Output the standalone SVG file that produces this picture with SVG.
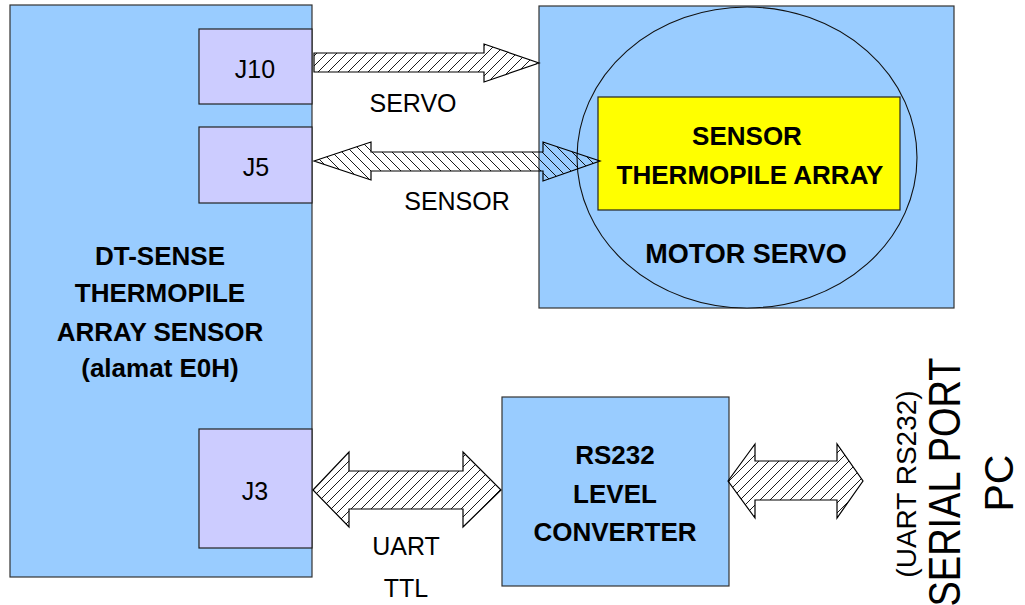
<svg xmlns="http://www.w3.org/2000/svg" width="1025" height="605" viewBox="0 0 1025 605">
<style>
.box{fill:#99CCFF;stroke:#333;stroke-width:1.2}
.port{fill:#CCCCFF;stroke:#222;stroke-width:1.2}
.t{font-family:"Liberation Sans",Arial,sans-serif;fill:#000;text-anchor:middle}
.b{font-weight:bold}
.arrow{stroke:#000;stroke-width:1.2;stroke-linejoin:miter}
</style>
<defs>
<pattern id="hatchF" patternUnits="userSpaceOnUse" width="10" height="10">
<path d="M-2,2 L2,-2 M0,10 L10,0 M8,12 L12,8" stroke="#000" stroke-width="0.9"/>
</pattern>
<pattern id="hatchB" patternUnits="userSpaceOnUse" width="10" height="10">
<path d="M-2,8 L2,12 M0,0 L10,10 M8,-2 L12,2" stroke="#000" stroke-width="0.9"/>
</pattern>
</defs>
<rect width="1025" height="605" fill="#fff"/>

<g id="dt-sense">
<rect class="box" x="10" y="5" width="302" height="572"/>
<text class="t b" x="160" y="265" font-size="26">DT-SENSE</text>
<text class="t b" x="160" y="302" font-size="26">THERMOPILE</text>
<text class="t b" x="160" y="341" font-size="26">ARRAY SENSOR</text>
<text class="t b" x="160" y="377" font-size="26">(alamat E0H)</text>
</g>
<g id="j10">
<rect class="port" x="199" y="29" width="113" height="75"/>
<text class="t" x="255" y="78" font-size="25">J10</text>
</g>
<g id="j5">
<rect class="port" x="199" y="127" width="113" height="76"/>
<text class="t" x="256" y="176" font-size="25">J5</text>
</g>
<g id="j3">
<rect class="port" x="199" y="429" width="113" height="119"/>
<text class="t" x="255" y="500" font-size="25">J3</text>
</g>

<g id="motor-servo">
<rect class="box" x="539" y="6" width="415" height="302"/>
<ellipse cx="747" cy="157.5" rx="170" ry="150.5" fill="#99CCFF" stroke="#111" stroke-width="1.1"/>
<text class="t b" x="746" y="263" font-size="27">MOTOR SERVO</text>
</g>
<g id="sensor-array">
<rect x="598" y="97" width="302" height="113" fill="#FFFF00" stroke="#222" stroke-width="1.2"/>
<text class="t b" x="747" y="145" font-size="26">SENSOR</text>
<text class="t b" x="750" y="184" font-size="26">THERMOPILE ARRAY</text>
</g>

<g id="rs232">
<rect class="box" x="502" y="397" width="227" height="189"/>
<text class="t b" x="615" y="464" font-size="26">RS232</text>
<text class="t b" x="615" y="503" font-size="26">LEVEL</text>
<text class="t b" x="615" y="541" font-size="26">CONVERTER</text>
</g>

<g id="pc">
<text class="t" transform="translate(916,484) rotate(-90)" font-size="28">(UART RS232)</text>
<text class="t" transform="translate(960,482) rotate(-90)" font-size="44" textLength="249" lengthAdjust="spacingAndGlyphs">SERIAL PORT</text>
<text class="t" transform="translate(1013,483) rotate(-90)" font-size="41">PC</text>
</g>

<g id="connectors">
<polygon class="arrow" fill="url(#hatchF)" points="314,53 484,53 484,44 539,63 484,82 484,72 314,72"/>
<polygon class="arrow" fill="url(#hatchB)" points="314,161 371,142 371,152 543,152 543,142 600,161 543,181 543,171 371,171 371,180"/>
<polygon class="arrow" fill="url(#hatchF)" points="313,490 349,452 349,471 463,471 463,452 501,490 463,527 463,509 349,509 349,527"/>
<polygon class="arrow" fill="url(#hatchF)" points="728,481 755,444 755,461 837,461 837,444 863,481 837,518 837,500 755,500 755,518"/>
<text class="t" x="413" y="112" font-size="25">SERVO</text>
<text class="t" x="457" y="210" font-size="25">SENSOR</text>
<text class="t" x="406" y="555" font-size="25">UART</text>
<text class="t" x="406" y="597" font-size="25">TTL</text>
</g>
</svg>
